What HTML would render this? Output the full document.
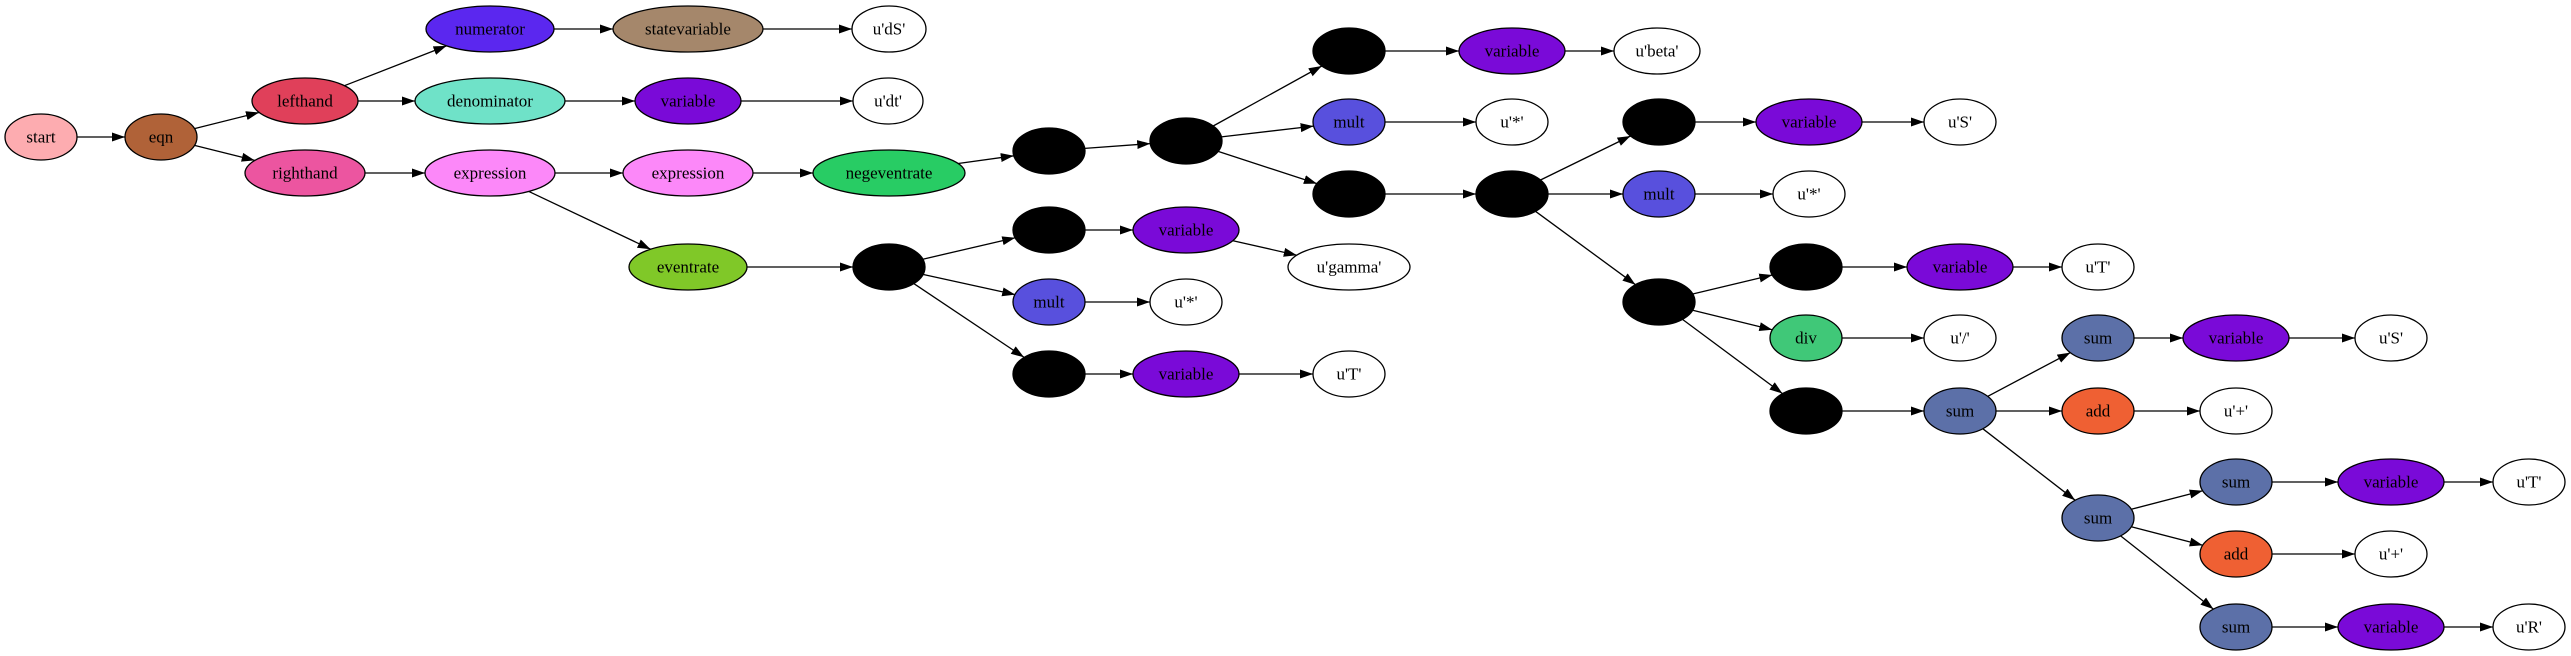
<!DOCTYPE html>
<html><head><meta charset="utf-8"><style>
html,body{margin:0;padding:0;background:#fff;}
svg{display:block;}
text{font-family:"Liberation Serif",serif;font-size:17px;text-anchor:middle;dominant-baseline:central;fill:#000;}
ellipse{stroke:#000;stroke-width:1.3;}
line{stroke:#000;stroke-width:1.3;}
</style></head><body>
<svg width="2571" height="656" viewBox="0 0 2571 656" xmlns="http://www.w3.org/2000/svg">
<defs><marker id="a" markerUnits="userSpaceOnUse" markerWidth="14" markerHeight="10" refX="13" refY="4.5" orient="auto"><path d="M0,0 L13,4.5 L0,9 z" fill="#000"/></marker></defs>
<g marker-end="url(#a)">
<line x1="77" y1="137" x2="125" y2="137"/>
<line x1="194.5" y1="128.6" x2="259" y2="112.5"/>
<line x1="194.5" y1="145.4" x2="254.7" y2="160.4"/>
<line x1="344.4" y1="85.7" x2="446.5" y2="45.9"/>
<line x1="358" y1="101" x2="415" y2="101"/>
<line x1="565" y1="101" x2="635" y2="101"/>
<line x1="741" y1="101" x2="853" y2="101"/>
<line x1="554" y1="29" x2="613" y2="29"/>
<line x1="763" y1="29" x2="852" y2="29"/>
<line x1="365" y1="173" x2="425" y2="173"/>
<line x1="555" y1="173" x2="623" y2="173"/>
<line x1="753" y1="173" x2="813" y2="173"/>
<line x1="528.8" y1="191.4" x2="650.6" y2="249.2"/>
<line x1="747" y1="267" x2="853" y2="267"/>
<line x1="958.2" y1="163.5" x2="1013.8" y2="155.8"/>
<line x1="1084.8" y1="148.4" x2="1150.2" y2="143.6"/>
<line x1="1213.2" y1="126" x2="1321.8" y2="66"/>
<line x1="1221.4" y1="136.9" x2="1313.6" y2="126.1"/>
<line x1="1218.1" y1="151.4" x2="1316.9" y2="183.6"/>
<line x1="1385" y1="51" x2="1459" y2="51"/>
<line x1="1565" y1="51" x2="1614" y2="51"/>
<line x1="1385" y1="122" x2="1476" y2="122"/>
<line x1="1385" y1="194" x2="1476" y2="194"/>
<line x1="1540.5" y1="180" x2="1630.5" y2="136"/>
<line x1="1548" y1="194" x2="1623" y2="194"/>
<line x1="1535.5" y1="211.3" x2="1635.5" y2="284.7"/>
<line x1="1695" y1="122" x2="1756" y2="122"/>
<line x1="1862" y1="122" x2="1924" y2="122"/>
<line x1="1695" y1="194" x2="1773" y2="194"/>
<line x1="1692.7" y1="294" x2="1772.3" y2="275"/>
<line x1="1692.7" y1="310.2" x2="1772.3" y2="329.8"/>
<line x1="1682.5" y1="319.4" x2="1782.5" y2="393.6"/>
<line x1="1842" y1="267" x2="1907" y2="267"/>
<line x1="2013" y1="267" x2="2062" y2="267"/>
<line x1="1842" y1="338" x2="1924" y2="338"/>
<line x1="1842" y1="411" x2="1924" y2="411"/>
<line x1="1987.6" y1="396.4" x2="2070.4" y2="352.6"/>
<line x1="1996" y1="411" x2="2062" y2="411"/>
<line x1="1982.9" y1="428.8" x2="2075.1" y2="500.2"/>
<line x1="2134" y1="411" x2="2200" y2="411"/>
<line x1="2134" y1="338" x2="2183" y2="338"/>
<line x1="2289" y1="338" x2="2355" y2="338"/>
<line x1="2131.3" y1="509.3" x2="2202.7" y2="490.7"/>
<line x1="2131.3" y1="526.7" x2="2202.7" y2="545.3"/>
<line x1="2120.6" y1="535.9" x2="2213.4" y2="609.1"/>
<line x1="2272" y1="482" x2="2338" y2="482"/>
<line x1="2444" y1="482" x2="2493" y2="482"/>
<line x1="2272" y1="554" x2="2355" y2="554"/>
<line x1="2272" y1="627" x2="2338" y2="627"/>
<line x1="2444" y1="627" x2="2493" y2="627"/>
<line x1="922.8" y1="259.2" x2="1015.2" y2="237.8"/>
<line x1="922.8" y1="274.4" x2="1015.2" y2="294.6"/>
<line x1="914" y1="283.7" x2="1024" y2="357.3"/>
<line x1="1085" y1="230" x2="1133" y2="230"/>
<line x1="1233" y1="240.7" x2="1296.8" y2="255.2"/>
<line x1="1085" y1="302" x2="1150" y2="302"/>
<line x1="1085" y1="374" x2="1133" y2="374"/>
<line x1="1239" y1="374" x2="1313" y2="374"/>
</g>
<g>
<ellipse cx="41" cy="137" rx="36" ry="23" fill="#fdacb0"/><text x="41" y="137">start</text>
<ellipse cx="161" cy="137" rx="36" ry="23" fill="#b06238"/><text x="161" y="137">eqn</text>
<ellipse cx="305" cy="101" rx="53" ry="23" fill="#e0405a"/><text x="305" y="101">lefthand</text>
<ellipse cx="305" cy="173" rx="60" ry="23" fill="#ec55a0"/><text x="305" y="173">righthand</text>
<ellipse cx="490" cy="29" rx="64" ry="23" fill="#5b27ef"/><text x="490" y="29">numerator</text>
<ellipse cx="490" cy="101" rx="75" ry="23" fill="#6fe2c8"/><text x="490" y="101">denominator</text>
<ellipse cx="490" cy="173" rx="65" ry="23" fill="#fc88f9"/><text x="490" y="173">expression</text>
<ellipse cx="688" cy="29" rx="75" ry="23" fill="#a5876b"/><text x="688" y="29">statevariable</text>
<ellipse cx="688" cy="101" rx="53" ry="23" fill="#7a0ad8"/><text x="688" y="101">variable</text>
<ellipse cx="688" cy="173" rx="65" ry="23" fill="#fc88f9"/><text x="688" y="173">expression</text>
<ellipse cx="688" cy="267" rx="59" ry="23" fill="#80c828"/><text x="688" y="267">eventrate</text>
<ellipse cx="889" cy="29" rx="37" ry="23" fill="#fff"/><text x="889" y="29">u'dS'</text>
<ellipse cx="888" cy="101" rx="35" ry="23" fill="#fff"/><text x="888" y="101">u'dt'</text>
<ellipse cx="889" cy="173" rx="76" ry="23" fill="#28cc64"/><text x="889" y="173">negeventrate</text>
<ellipse cx="889" cy="267" rx="36" ry="23" fill="#000"/>
<ellipse cx="1049" cy="151" rx="36" ry="23" fill="#000"/>
<ellipse cx="1186" cy="141" rx="36" ry="23" fill="#000"/>
<ellipse cx="1349" cy="51" rx="36" ry="23" fill="#000"/>
<ellipse cx="1512" cy="51" rx="53" ry="23" fill="#7a0ad8"/><text x="1512" y="51">variable</text>
<ellipse cx="1657" cy="51" rx="43" ry="23" fill="#fff"/><text x="1657" y="51">u'beta'</text>
<ellipse cx="1349" cy="122" rx="36" ry="23" fill="#5850dd"/><text x="1349" y="122">mult</text>
<ellipse cx="1512" cy="122" rx="36" ry="23" fill="#fff"/><text x="1512" y="122">u'*'</text>
<ellipse cx="1349" cy="194" rx="36" ry="23" fill="#000"/>
<ellipse cx="1512" cy="194" rx="36" ry="23" fill="#000"/>
<ellipse cx="1659" cy="122" rx="36" ry="23" fill="#000"/>
<ellipse cx="1809" cy="122" rx="53" ry="23" fill="#7a0ad8"/><text x="1809" y="122">variable</text>
<ellipse cx="1960" cy="122" rx="36" ry="23" fill="#fff"/><text x="1960" y="122">u'S'</text>
<ellipse cx="1659" cy="194" rx="36" ry="23" fill="#5850dd"/><text x="1659" y="194">mult</text>
<ellipse cx="1809" cy="194" rx="36" ry="23" fill="#fff"/><text x="1809" y="194">u'*'</text>
<ellipse cx="1659" cy="302" rx="36" ry="23" fill="#000"/>
<ellipse cx="1806" cy="267" rx="36" ry="23" fill="#000"/>
<ellipse cx="1960" cy="267" rx="53" ry="23" fill="#7a0ad8"/><text x="1960" y="267">variable</text>
<ellipse cx="2098" cy="267" rx="36" ry="23" fill="#fff"/><text x="2098" y="267">u'T'</text>
<ellipse cx="1806" cy="338" rx="36" ry="23" fill="#40c878"/><text x="1806" y="338">div</text>
<ellipse cx="1960" cy="338" rx="36" ry="23" fill="#fff"/><text x="1960" y="338">u'/'</text>
<ellipse cx="1806" cy="411" rx="36" ry="23" fill="#000"/>
<ellipse cx="1960" cy="411" rx="36" ry="23" fill="#5c70a8"/><text x="1960" y="411">sum</text>
<ellipse cx="2098" cy="338" rx="36" ry="23" fill="#5c70a8"/><text x="2098" y="338">sum</text>
<ellipse cx="2236" cy="338" rx="53" ry="23" fill="#7a0ad8"/><text x="2236" y="338">variable</text>
<ellipse cx="2391" cy="338" rx="36" ry="23" fill="#fff"/><text x="2391" y="338">u'S'</text>
<ellipse cx="2098" cy="411" rx="36" ry="23" fill="#ef6033"/><text x="2098" y="411">add</text>
<ellipse cx="2236" cy="411" rx="36" ry="23" fill="#fff"/><text x="2236" y="411">u'+'</text>
<ellipse cx="2098" cy="518" rx="36" ry="23" fill="#5c70a8"/><text x="2098" y="518">sum</text>
<ellipse cx="2236" cy="482" rx="36" ry="23" fill="#5c70a8"/><text x="2236" y="482">sum</text>
<ellipse cx="2391" cy="482" rx="53" ry="23" fill="#7a0ad8"/><text x="2391" y="482">variable</text>
<ellipse cx="2529" cy="482" rx="36" ry="23" fill="#fff"/><text x="2529" y="482">u'T'</text>
<ellipse cx="2236" cy="554" rx="36" ry="23" fill="#ef6033"/><text x="2236" y="554">add</text>
<ellipse cx="2391" cy="554" rx="36" ry="23" fill="#fff"/><text x="2391" y="554">u'+'</text>
<ellipse cx="2236" cy="627" rx="36" ry="23" fill="#5c70a8"/><text x="2236" y="627">sum</text>
<ellipse cx="2391" cy="627" rx="53" ry="23" fill="#7a0ad8"/><text x="2391" y="627">variable</text>
<ellipse cx="2529" cy="627" rx="36" ry="23" fill="#fff"/><text x="2529" y="627">u'R'</text>
<ellipse cx="1049" cy="230" rx="36" ry="23" fill="#000"/>
<ellipse cx="1186" cy="230" rx="53" ry="23" fill="#7a0ad8"/><text x="1186" y="230">variable</text>
<ellipse cx="1349" cy="267" rx="61" ry="23" fill="#fff"/><text x="1349" y="267">u'gamma'</text>
<ellipse cx="1049" cy="302" rx="36" ry="23" fill="#5850dd"/><text x="1049" y="302">mult</text>
<ellipse cx="1186" cy="302" rx="36" ry="23" fill="#fff"/><text x="1186" y="302">u'*'</text>
<ellipse cx="1049" cy="374" rx="36" ry="23" fill="#000"/>
<ellipse cx="1186" cy="374" rx="53" ry="23" fill="#7a0ad8"/><text x="1186" y="374">variable</text>
<ellipse cx="1349" cy="374" rx="36" ry="23" fill="#fff"/><text x="1349" y="374">u'T'</text>
</g>
</svg>
</body></html>
